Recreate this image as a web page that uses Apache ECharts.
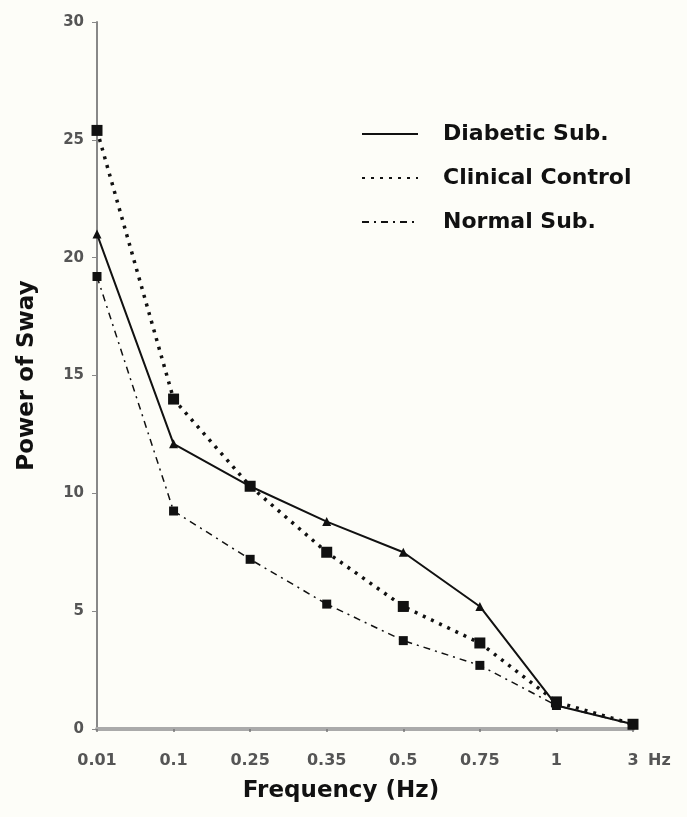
<!DOCTYPE html>
<html>
<head>
<meta charset="utf-8">
<script src="https://cdn.jsdelivr.net/npm/echarts@6/dist/echarts.min.js"></script>
<style>
  html, body { margin: 0; padding: 0; background: #fdfdf8; }
  #chart { width: 687px; height: 817px; }
</style>
</head>
<body>
<div id="chart"></div>
<script>
// Frequency bands (Hz) on the horizontal axis
const frequencies = ['0.01', '0.1', '0.25', '0.35', '0.5', '0.75', '1', '3'];

// Power of sway per frequency band
const diabeticSub = [21.0, 12.1, 10.3, 8.8, 7.5, 5.2, 1.0, 0.2];
const clinicalControl = [25.4, 14.0, 10.3, 7.5, 5.2, 3.65, 1.15, 0.2];
const normalSub = [19.2, 9.25, 7.2, 5.3, 3.75, 2.7, 1.0, 0.2];

// Vertical axis ticks
const yTicks = [0, 5, 10, 15, 20, 25, 30];

const font = 'DejaVu Sans';
const chart = echarts.init(document.getElementById('chart'), null, { renderer: 'canvas' });

chart.setOption({
  backgroundColor: '#fdfdf8',
  animation: false,
  grid: { left: 97, right: 54, top: 22, bottom: 88, containLabel: false },
  legend: {
    orient: 'vertical',
    left: 356,
    top: 118,
    itemWidth: 56,
    itemHeight: 16,
    itemGap: 22,
    data: ['Diabetic Sub.', 'Clinical Control', 'Normal Sub.'],
    itemStyle: { opacity: 0 },
    textStyle: { fontFamily: font, fontWeight: 'bold', fontSize: 22, color: '#111', padding: [0, 0, 0, 20] }
  },
  xAxis: {
    type: 'category',
    data: frequencies,
    boundaryGap: false,
    name: 'Frequency (Hz)',
    nameLocation: 'middle',
    nameGap: 51,
    nameTextStyle: { fontFamily: font, fontWeight: 'bold', fontSize: 23, color: '#111', padding: [0, 48, 0, 0] },
    axisLine: { lineStyle: { color: '#aaa', width: 4 } },
    axisTick: { show: true, length: 3, lineStyle: { color: '#777', width: 1.5 } },
    axisLabel: {
      interval: 0,
      hideOverlap: false,
      fontFamily: font, fontWeight: 'bold', fontSize: 16, color: '#555', margin: 24,
      formatter: function (v, i) {
        return i === frequencies.length - 1 ? '{pad|}' + v + '{hz| Hz}' : v;
      },
      rich: {
        pad: { width: 36 },
        hz: { fontFamily: font, fontWeight: 'bold', fontSize: 16, color: '#555', width: 36 }
      }
    },
    splitLine: { show: false }
  },
  yAxis: {
    type: 'value',
    min: yTicks[0],
    max: yTicks[yTicks.length - 1],
    interval: 5,
    name: 'Power of Sway',
    nameLocation: 'middle',
    nameGap: 58,
    nameRotate: 90,
    nameTextStyle: { fontFamily: font, fontWeight: 'bold', fontSize: 23, color: '#111' },
    axisLine: { show: true, lineStyle: { color: '#888', width: 2 } },
    axisTick: { show: true, length: 5, lineStyle: { color: '#888', width: 1 } },
    axisLabel: { fontFamily: font, fontWeight: 'bold', fontSize: 15, color: '#555', margin: 13 },
    splitLine: { show: false }
  },
  series: [
    {
      name: 'Diabetic Sub.',
      type: 'line',
      data: diabeticSub,
      symbol: 'triangle',
      symbolSize: 9,
      itemStyle: { color: '#111' },
      lineStyle: { color: '#111', width: 2, type: 'solid' },
      z: 3
    },
    {
      name: 'Clinical Control',
      type: 'line',
      data: clinicalControl,
      symbol: 'rect',
      symbolSize: 11,
      itemStyle: { color: '#111' },
      lineStyle: { color: '#111', width: 3.5, type: [3, 6] },
      z: 2
    },
    {
      name: 'Normal Sub.',
      type: 'line',
      data: normalSub,
      symbol: 'rect',
      symbolSize: 9,
      itemStyle: { color: '#111' },
      lineStyle: { color: '#111', width: 1.5, type: [7, 5, 2, 5] },
      z: 1
    }
  ]
});
</script>
</body>
</html>
